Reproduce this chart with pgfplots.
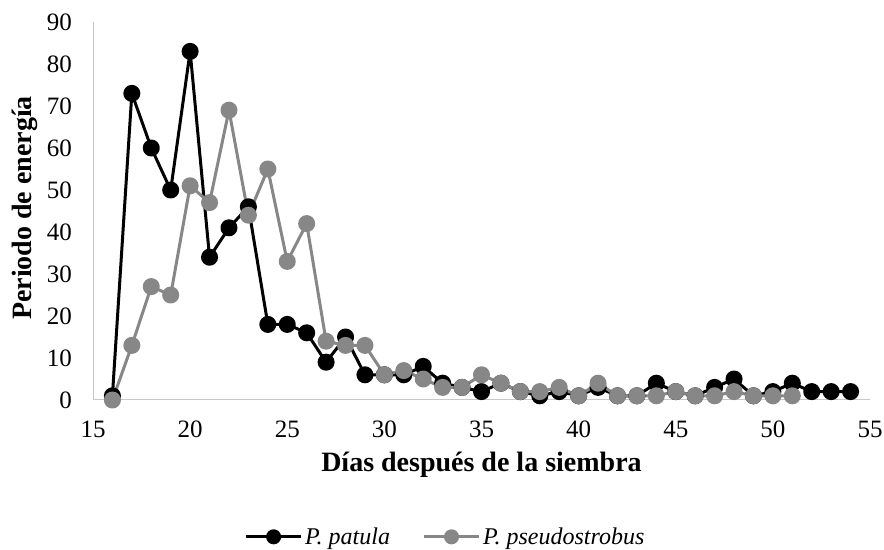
\documentclass[border=0pt]{standalone}
\usepackage{pgfplots}
\pgfplotsset{compat=1.18}
\usepackage{fontspec}
\setmainfont{Liberation Serif}
\definecolor{lgray}{RGB}{135,135,135}
\definecolor{axgray}{RGB}{200,200,200}
\newcommand{\legfont}{\fontsize{24}{27}\selectfont\itshape}
\begin{document}
\begin{tikzpicture}
\begin{axis}[
  scale only axis,
  width=777pt, height=378pt,
  xmin=15, xmax=55, ymin=0, ymax=90,
  xtick={15,20,...,55}, ytick={0,10,...,90},
  axis x line*=bottom, axis y line*=left,
  axis line style={axgray, line width=1pt, -},
  major tick length=0pt,
  tick label style={font=\fontsize{25}{28}\selectfont, inner sep=0pt},
  /pgf/number format/assume math mode=true,
  xticklabel style={anchor=north, yshift=-21pt},
  yticklabel style={anchor=east, xshift=-21pt},
  xlabel={\textbf{Días después de la siembra}},
  ylabel={\textbf{Periodo de energía}},
  label style={font=\fontsize{28}{31}\selectfont},
  xlabel style={at={(axis description cs:0.5,-0.172)}, anchor=center},
  ylabel style={at={(axis description cs:-0.0875,0.508)}, anchor=center, rotate=0},
  clip=false,
  legend style={at={(0.454,-0.362)}, anchor=center, draw=none, legend columns=2,
    font=\legfont, inner sep=0pt,
    nodes={inner sep=2.5pt},
    /tikz/every even column/.append style={column sep=30pt}},
  legend image code/.code={\draw[#1, line width=3pt] (0pt,0pt) -- (55pt,0pt); \draw[#1, mark=*, mark size=6pt] plot coordinates {(27.5pt,0pt)};},
]
\addplot[black, line width=3pt, line join=round, mark=*, mark size=7pt] coordinates {
(16,1)(17,73)(18,60)(19,50)(20,83)(21,34)(22,41)(23,46)(24,18)(25,18)
(26,16)(27,9)(28,15)(29,6)(30,6)(31,6)(32,8)(33,4)(34,3)(35,2)
(36,4)(37,2)(38,1)(39,2)(40,1)(41,3)(42,1)(43,1)(44,4)(45,2)
(46,1)(47,3)(48,5)(49,1)(50,2)(51,4)(52,2)(53,2)(54,2)};
\addlegendentry{\legfont P. patula}
\addplot[lgray, line width=3pt, line join=round, mark=*, mark size=7pt] coordinates {
(16,0)(17,13)(18,27)(19,25)(20,51)(21,47)(22,69)(23,44)(24,55)(25,33)
(26,42)(27,14)(28,13)(29,13)(30,6)(31,7)(32,5)(33,3)(34,3)(35,6)
(36,4)(37,2)(38,2)(39,3)(40,1)(41,4)(42,1)(43,1)(44,1)(45,2)
(46,1)(47,1)(48,2)(49,1)(50,1)(51,1)};
\addlegendentry{\legfont P. pseudostrobus}
\coordinate (bl) at ([xshift=-93pt,yshift=-150pt]rel axis cs:0,0);
\coordinate (tr) at ([xshift=14pt,yshift=22pt]rel axis cs:1,1);
\end{axis}
\pgfresetboundingbox
\path (bl) rectangle (tr);
\end{tikzpicture}
\end{document}
